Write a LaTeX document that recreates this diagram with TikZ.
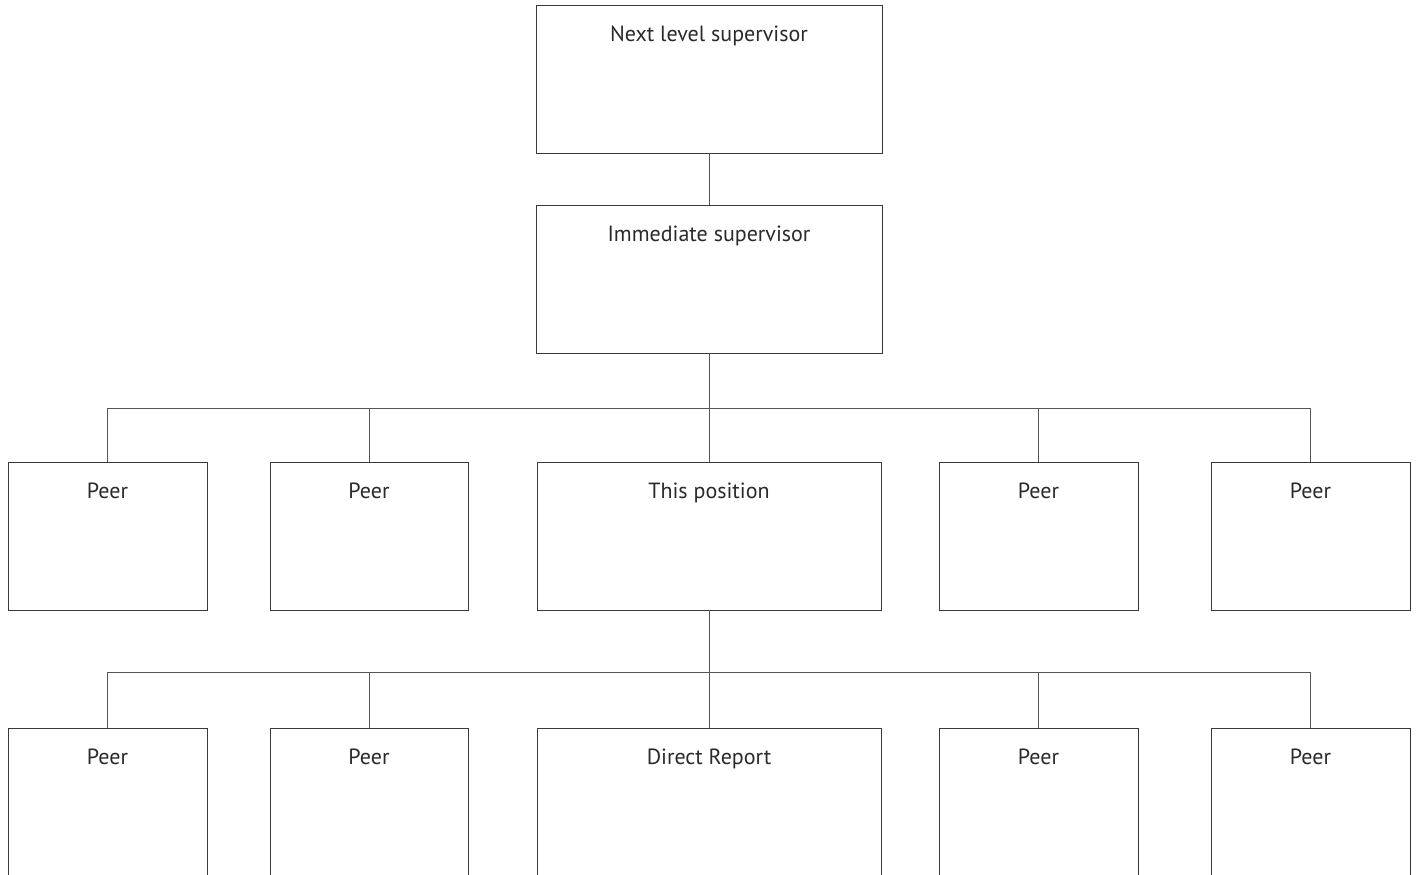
\documentclass[tikz,border=0pt]{standalone}
\usepackage{fontspec}
\setmainfont{PT Sans}
\usetikzlibrary{fit}
\definecolor{boxc}{HTML}{3A3A3A}
\definecolor{connc}{HTML}{555555}
\definecolor{txtc}{HTML}{2A2A2A}
\begin{document}
\begin{tikzpicture}[x=0.75pt,y=-0.75pt,
  box/.style={draw=boxc, line width=0.7pt, inner sep=0pt,
    label={[anchor=base, yshift=-27.75pt, text=txtc, inner sep=0pt,
      font=\fontsize{16.5}{19}\selectfont]north:#1}},
  conn/.style={draw=connc, line width=0.7pt}]
\useasboundingbox (0,0) rectangle (1418,875);
\clip (0,0) rectangle (1418,875);
% top
\node[box=Next level supervisor, fit={(536,5) (882,153)}] (ns) {};
\node[box=Immediate supervisor, fit={(536,205) (882,353)}] (is) {};
% row 2
\node[box=Peer, fit={(8,462) (207,610)}] (pa) {};
\node[box=Peer, fit={(270,462) (468,610)}] (pb) {};
\node[box=This position, fit={(537,462) (881,610)}] (tp) {};
\node[box=Peer, fit={(939,462) (1138,610)}] (pc) {};
\node[box=Peer, fit={(1211,462) (1410,610)}] (pd) {};
% row 3
\node[box=Peer, fit={(8,728) (207,900)}] (qa) {};
\node[box=Peer, fit={(270,728) (468,900)}] (qb) {};
\node[box=Direct Report, fit={(537,728) (881,900)}] (dr) {};
\node[box=Peer, fit={(939,728) (1138,900)}] (qc) {};
\node[box=Peer, fit={(1211,728) (1410,900)}] (qd) {};
% buses
\coordinate (b1) at (709,408);
\coordinate (b2) at (709,672);
\draw[conn] (ns.south) -- (is.north);
\draw[conn] (is.south) -- (tp.north);
\draw[conn] (pa.north) |- (b1);
\draw[conn] (pb.north) |- (b1);
\draw[conn] (pc.north) |- (b1);
\draw[conn] (pd.north) |- (b1);
\draw[conn] (tp.south) -- (dr.north);
\draw[conn] (qa.north) |- (b2);
\draw[conn] (qb.north) |- (b2);
\draw[conn] (qc.north) |- (b2);
\draw[conn] (qd.north) |- (b2);
\end{tikzpicture}
\end{document}
